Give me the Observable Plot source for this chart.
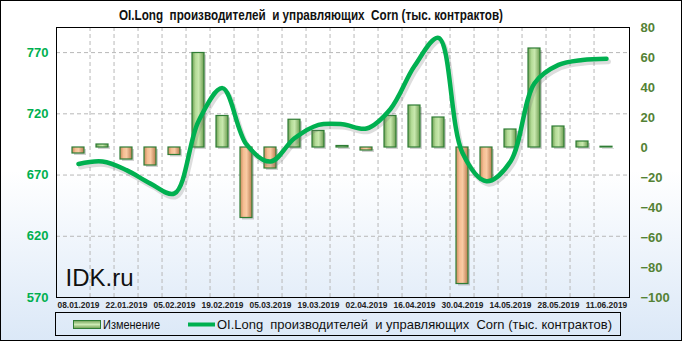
<!DOCTYPE html>
<html><head><meta charset="utf-8">
<script src="https://cdn.jsdelivr.net/npm/d3@7"></script>
<script src="https://cdn.jsdelivr.net/npm/@observablehq/plot@0.6"></script>
<style>
body{margin:0;background:#fff}
#chart{width:682px;height:341px}
</style></head>
<body><div id="chart"></div>
<script>
const dates = ["08.01.2019","15.01.2019","22.01.2019","29.01.2019","05.02.2019","12.02.2019","19.02.2019","26.02.2019","05.03.2019","12.03.2019","19.03.2019","26.03.2019","02.04.2019","09.04.2019","16.04.2019","23.04.2019","30.04.2019","07.05.2019","14.05.2019","21.05.2019","28.05.2019","04.06.2019","11.06.2019"];
const change = [-4, 2, -8, -12, -5, 63, 21, -47, -14, 18.5, 11, 1, -2, 21, 28, 20, -91, -22, 12, 66, 14, 4, 0.5];
const oiLong = [679, 681, 674, 663, 655, 714, 741, 695, 681, 700, 711, 711.5, 708, 724, 759, 782, 688, 665, 681, 745, 760, 764, 765];
const leftTicks = [570, 620, 670, 720, 770];
const rightTicks = [-100, -80, -60, -40, -20, 0, 20, 40, 60, 80];
const xTickLabels = dates.filter((d, i) => i % 2 === 0);
const titleText = "OI.Long  производителей  и управляющих  Corn (тыс. контрактов)";
const legendBar = "Изменение";

const L0 = 570, L1 = 790.5, R0 = -100, R1 = 80;
const toR = v => R0 + (v - L0) / (L1 - L0) * (R1 - R0);
const fromR = r => L0 + (r - R0) / (R1 - R0) * (L1 - L0);

const data = dates.map((d, i) => ({date: d, v: change[i], oi: oiLong[i]}));
const W = 682, H = 341, mL = 56, mR = 53, mT = 27, mB = 44;
const half = (W - mL - mR) / dates.length / 2;

const svg = Plot.plot({
  width: W, height: H,
  marginLeft: mL, marginRight: mR, marginTop: mT, marginBottom: mB,
  style: {fontFamily: "'Liberation Sans', Arial, sans-serif", background: "linear-gradient(to bottom, #ffffff 0%, #ffffff 50%, #dbe8f7 100%)", overflow: "visible"},
  x: {type: "band", domain: dates, paddingInner: 0.48, paddingOuter: 0.24, axis: null},
  y: {domain: [R0, R1], axis: null},
  marks: [
    Plot.gridY(leftTicks.filter(t => t > L0).map(toR), {stroke: "#b8b8b8", strokeOpacity: 1, strokeDasharray: "4,3"}),
    Plot.ruleX(dates.slice(1), {dx: -half, stroke: "#b8b8b8", strokeDasharray: "4,3"}),
    Plot.barY(data, {x: "date", y: "v", fill: "#000", fillOpacity: 0.18, dx: 2, dy: 2}),
    Plot.barY(data.filter(d => d.v >= 0), {x: "date", y: "v", fill: "url(#gG)", stroke: "#2f7d35", strokeWidth: 1.2}),
    Plot.barY(data.filter(d => d.v < 0), {x: "date", y: "v", fill: "url(#gO)", stroke: "#2f7d35", strokeWidth: 1.2}),
    Plot.line(data, {x: "date", y: d => toR(d.oi), stroke: "#777", strokeOpacity: 0.25, strokeWidth: 5, curve: "catmull-rom", dx: 2, dy: 3}),
    Plot.line(data, {x: "date", y: d => toR(d.oi), stroke: "#00b050", strokeWidth: 4.5, curve: "catmull-rom"}),
    Plot.frame({stroke: "#000"}),
    Plot.text(["IDK.ru"], {frameAnchor: "bottom-left", dx: 9, dy: -12, fontSize: 24, fill: "#111", textAnchor: "start", lineAnchor: "bottom"}),
    Plot.axisY(leftTicks.map(toR), {anchor: "left", tickSize: 0, tickPadding: 8, tickFormat: d => Math.round(fromR(d)), fill: "#00b050", fontWeight: "bold", fontSize: 13, label: null}),
    Plot.axisY(rightTicks, {anchor: "right", tickSize: 0, tickPadding: 11, fill: "#548235", fontWeight: "bold", fontSize: 13, label: null}),
    Plot.axisX(xTickLabels, {anchor: "bottom", tickSize: 0, tickPadding: 5, fontWeight: "bold", fontSize: 8.4, fill: "#222", label: null})
  ]
});

const s = d3.select(svg);
const defs = s.insert("defs", ":first-child");
function grad(id, stops, vertical) {
  const g = defs.append("linearGradient").attr("id", id).attr("x1", 0).attr("y1", 0).attr("x2", vertical ? 0 : 1).attr("y2", vertical ? 1 : 0);
  stops.forEach(([o, c]) => g.append("stop").attr("offset", o).attr("stop-color", c));
}
grad("gG", [[0, "#6f9f55"], [0.3, "#b5dc98"], [0.55, "#c8e8ae"], [1, "#6c9c50"]]);
grad("gO", [[0, "#c98a5e"], [0.3, "#f6bf93"], [0.55, "#f9cba4"], [1, "#b97a4e"]]);
grad("gGv", [[0, "#6f9f55"], [0.5, "#cdeab4"], [1, "#6c9c50"]], true);

s.append("rect").attr("x", 0.5).attr("y", 0.5).attr("width", W - 1).attr("height", H - 1).attr("fill", "none").attr("stroke", "#000");
const g2 = s.append("g").attr("text-anchor", "start").attr("font-family", "'Liberation Sans', Arial, sans-serif");
g2.append("text").attr("x", 119).attr("y", 20).attr("font-family", "'Liberation Sans Narrow','Liberation Sans',sans-serif").attr("font-weight", "bold").attr("font-size", 15).attr("fill", "#111").style("white-space", "pre").attr("textLength", 384).attr("lengthAdjust", "spacingAndGlyphs").text(titleText);

// legend
g2.append("rect").attr("x", 55.5).attr("y", 312.5).attr("width", 565).attr("height", 23).attr("fill", "none").attr("stroke", "#000");
g2.append("rect").attr("x", 73.5).attr("y", 320.5).attr("width", 27).attr("height", 8).attr("fill", "url(#gGv)").attr("stroke", "#2f7d35");
g2.append("text").attr("x", 103).attr("y", 329).attr("font-size", 13).attr("fill", "#111").attr("textLength", 57).attr("lengthAdjust", "spacingAndGlyphs").text(legendBar);
g2.append("line").attr("x1", 188).attr("x2", 215).attr("y1", 324.5).attr("y2", 324.5).attr("stroke", "#00b050").attr("stroke-width", 4);
g2.append("text").attr("x", 217).attr("y", 329).attr("font-size", 13).attr("fill", "#111").style("white-space", "pre").attr("textLength", 395).attr("lengthAdjust", "spacingAndGlyphs").text(titleText);

document.getElementById("chart").appendChild(svg);
</script></body></html>
